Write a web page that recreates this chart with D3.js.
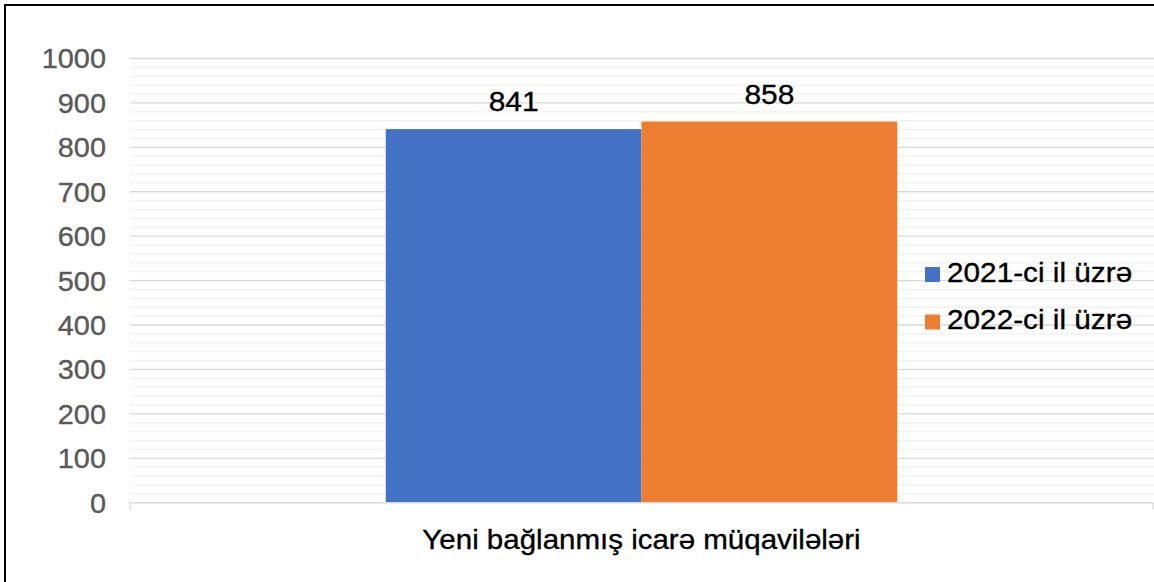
<!DOCTYPE html>
<html>
<head>
<meta charset="utf-8">
<script src="https://cdn.jsdelivr.net/npm/d3@7"></script>
<style>
  html, body { margin: 0; padding: 0; background: #fff; overflow: hidden; }
  svg { display: block; font-family: "Liberation Sans", Arial, sans-serif; }
</style>
</head>
<body>
<svg id="chart" width="1154" height="582"></svg>
<script>
// ---- data ----
const categories = ["Yeni bağlanmış icarə müqavilələri"];
const seriesNames = ["2021-ci il üzrə", "2022-ci il üzrə"];
const values2021 = [841];
const values2022 = [858];
const yTicks = [0, 100, 200, 300, 400, 500, 600, 700, 800, 900, 1000];
const colors = ["#4472C4", "#ED7D31"];

const seriesValues = [values2021, values2022];

const W = 1154, H = 582;
const SX = 1.07; // horizontal text stretch seen in the reference
const svg = d3.select("#chart");

const plot = { left: 130, right: 1153, top: 58.5, bottom: 502.7 };

const y = d3.scaleLinear().domain([0, 1000]).range([plot.bottom, plot.top]);
const x0 = d3.scaleBand().domain(categories).range([plot.left, plot.right])
  .paddingInner(1/3).paddingOuter(1/3);
const x1 = d3.scaleBand().domain(seriesNames).range([0, x0.bandwidth()]).padding(0);

function stretched(sel, fill) {
  sel.attr("fill", fill).attr("stroke", fill).attr("stroke-width", 0.35);
}

// minor gridlines
const minor = d3.range(20, 1001, 20).filter(v => v % 100 !== 0);
svg.append("g").selectAll("line").data(minor).join("line")
  .attr("x1", plot.left).attr("x2", W)
  .attr("y1", d => y(d)).attr("y2", d => y(d))
  .attr("stroke", "#f0f0f0").attr("stroke-width", 1.3);

// major gridlines
svg.append("g").selectAll("line").data(yTicks.filter(v => v > 0)).join("line")
  .attr("x1", plot.left).attr("x2", W)
  .attr("y1", d => y(d)).attr("y2", d => y(d))
  .attr("stroke", "#d9d9d9").attr("stroke-width", 1.3);

// bars
const bars = [];
categories.forEach((c, i) => {
  seriesNames.forEach((s, j) => bars.push({ c, s, v: seriesValues[j][i], color: colors[j] }));
});
svg.append("g").selectAll("rect").data(bars).join("rect")
  .attr("x", d => x0(d.c) + x1(d.s))
  .attr("width", x1.bandwidth())
  .attr("y", d => y(d.v))
  .attr("height", d => y(0) - y(d.v))
  .attr("fill", d => d.color);

// value labels
svg.append("g").selectAll("text").data(bars).join("text")
  .attr("transform", d => `translate(${x0(d.c) + x1(d.s) + x1.bandwidth() / 2},${y(d.v) - 18}) scale(${SX},1)`)
  .attr("text-anchor", "middle")
  .attr("font-size", 28)
  .call(stretched, "#000")
  .text(d => d.v);

// x axis
const xAxis = d3.axisBottom(x0).tickSize(0).tickFormat(() => "");
const xa = svg.append("g").attr("transform", `translate(0,${plot.bottom})`).call(xAxis);
xa.select(".domain").remove();
xa.append("line").attr("x1", plot.left).attr("x2", plot.right).attr("y1", 0).attr("y2", 0)
  .attr("stroke", "#d9d9d9").attr("stroke-width", 1.5);
[plot.left, plot.right].forEach(px => {
  xa.append("line").attr("x1", px).attr("x2", px).attr("y1", 0).attr("y2", 7)
    .attr("stroke", "#d9d9d9").attr("stroke-width", 1.3);
});
svg.append("g").selectAll("text").data(categories).join("text")
  .attr("transform", d => `translate(${x0(d) + x0.bandwidth() / 2},548.5) scale(${SX * 0.985},1)`)
  .attr("text-anchor", "middle")
  .attr("font-size", 28)
  .call(stretched, "#000")
  .text(d => d);

// y axis
const yAxis = d3.axisLeft(y).tickValues(yTicks).tickFormat(d3.format("d")).tickSize(0).tickPadding(0);
const ya = svg.append("g").attr("transform", `translate(106,0)`).call(yAxis);
ya.select(".domain").remove();
ya.selectAll("text")
  .attr("x", null)
  .attr("font-family", "'Liberation Sans', Arial, sans-serif")
  .attr("font-size", 27)
  .attr("dy", "0.35em")
  .attr("transform", `scale(${SX},1)`)
  .call(stretched, "#595959");
// keep right edge at x=106 after stretching
ya.selectAll(".tick text").attr("x", 0);
ya.attr("transform", `translate(106,0)`);
ya.selectAll(".tick").each(function(d) {
  d3.select(this).select("text").attr("transform", `scale(${SX},1)`);
});

// legend
const legend = svg.append("g");
seriesNames.forEach((s, i) => {
  const gy = 267 + i * 47.5;
  legend.append("rect").attr("x", 925).attr("y", gy).attr("width", 15).attr("height", 15)
    .attr("fill", colors[i]);
  legend.append("text")
    .attr("transform", `translate(947,${gy + 14.5}) scale(${SX * 1.03},1)`)
    .attr("font-size", 27).call(stretched, "#000").text(s);
});

// outer frame
svg.append("rect").attr("x", 5).attr("y", 5).attr("width", W + 20).attr("height", H + 20)
  .attr("fill", "none").attr("stroke", "#000").attr("stroke-width", 2);
</script>
</body>
</html>
